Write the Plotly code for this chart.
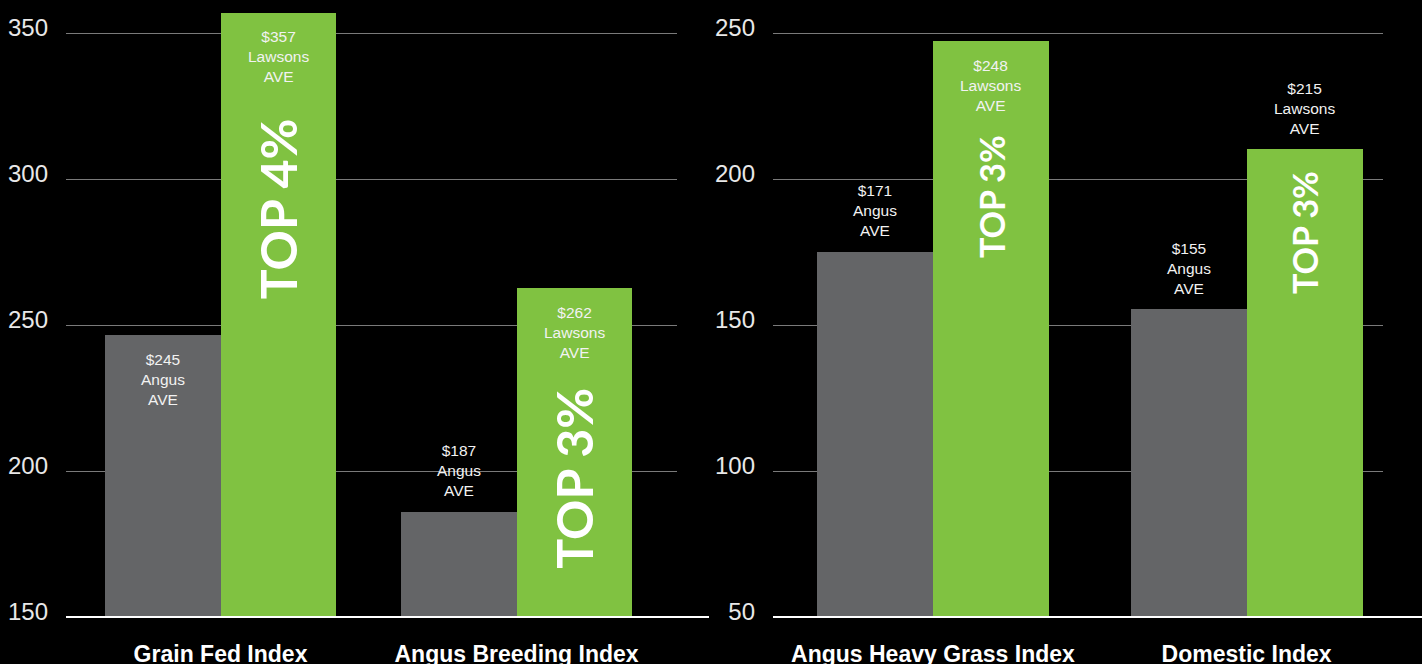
import plotly.graph_objects as go

# ---------------- data ----------------
left_categories = ["Grain Fed Index", "Angus Breeding Index"]
left_angus = [246.7, 186.0]
left_lawsons = [357.0, 262.7]
left_angus_labels = ["$245", "$187"]
left_lawsons_labels = ["$357", "$262"]
left_rank = ["TOP 4%", "TOP 3%"]
left_yticks = [150, 200, 250, 300, 350]

right_categories = ["Angus Heavy Grass Index", "Domestic Index"]
right_angus = [175.1, 155.6]
right_lawsons = [247.4, 210.3]
right_angus_labels = ["$171", "$155"]
right_lawsons_labels = ["$248", "$215"]
right_rank = ["TOP 3%", "TOP 3%"]
right_yticks = [50, 100, 150, 200, 250]

angus_name = "Angus<br>AVE"
lawsons_name = "Lawsons<br>AVE"

# ---------------- style ----------------
GREY = "#646567"
GREEN = "#80c241"
GRID = "#7a7a7a"
W, H = 1422, 664
PLOT_BOTTOM = 47

panels = [
    dict(cats=left_categories, angus=left_angus, lawsons=left_lawsons,
         al=left_angus_labels, ll=left_lawsons_labels, rank=left_rank,
         yticks=left_yticks, xa="x", ya="y", xkey="xaxis", ykey="yaxis",
         domain=[66 / W, 677 / W], xrange=[-0.522, 1.542], yrange=[150, 361.3],
         width=0.390,
         angus_shift=[-45, 41], lawsons_shift=[-44, -45],
         rank_shift=[-196.5, -190.5], rank_size=50,
         line=[66 / W, 709 / W]),
    dict(cats=right_categories, angus=right_angus, lawsons=right_lawsons,
         al=right_angus_labels, ll=right_lawsons_labels, rank=right_rank,
         yticks=right_yticks, xa="x2", ya="y2", xkey="xaxis2", ykey="yaxis2",
         domain=[773 / W, 1383 / W], xrange=[-0.510, 1.435], yrange=[50, 261.3],
         width=0.370,
         angus_shift=[41, 40], lawsons_shift=[-45, 40],
         rank_shift=[-155.5, -83.5], rank_size=34,
         line=[773 / W, 1.0]),
]

label_font = dict(family="Liberation Sans Narrow, Arial Narrow, Liberation Sans", size=15.5, color="#f2f2f2")
rank_family = "Lato, Noto Sans, sans-serif"

fig = go.Figure()
annotations = []
shapes = []
layout_axes = {}

for p in panels:
    idx = list(range(len(p["cats"])))
    w = p["width"]
    fig.add_trace(go.Bar(x=idx, y=p["angus"], width=w, offset=-w,
                         marker=dict(color=GREY, line=dict(width=0)),
                         xaxis=p["xa"], yaxis=p["ya"], showlegend=False, hoverinfo="skip"))
    fig.add_trace(go.Bar(x=idx, y=p["lawsons"], width=w, offset=0,
                         marker=dict(color=GREEN, line=dict(width=0)),
                         xaxis=p["xa"], yaxis=p["ya"], showlegend=False, hoverinfo="skip"))
    for i in idx:
        annotations.append(dict(
            x=i - w / 2, y=p["angus"][i], xref=p["xa"], yref=p["ya"],
            text=f"{p['al'][i]}<br>{angus_name}", showarrow=False,
            yanchor="middle", xanchor="center", yshift=p["angus_shift"][i],
            font=label_font, align="center"))
        annotations.append(dict(
            x=i + w / 2, y=p["lawsons"][i], xref=p["xa"], yref=p["ya"],
            text=f"{p['ll'][i]}<br>{lawsons_name}", showarrow=False,
            yanchor="middle", xanchor="center", yshift=p["lawsons_shift"][i],
            font=label_font, align="center"))
        annotations.append(dict(
            x=i + w / 2, y=p["lawsons"][i], xref=p["xa"], yref=p["ya"],
            text=p["rank"][i], showarrow=False, textangle=-90,
            yanchor="middle", xanchor="center", yshift=p["rank_shift"][i],
            font=dict(family=rank_family, size=p["rank_size"], color="white", weight=700)))
    layout_axes[p["xkey"]] = dict(
        domain=p["domain"], range=p["xrange"], tickmode="array", tickvals=idx,
        ticktext=p["cats"], showgrid=False, zeroline=False, showline=False,
        ticks="", ticklabelstandoff=21, fixedrange=True, automargin=False,
        tickfont=dict(family="Liberation Sans, Arial", size=23, color="white", weight="bold"),
        anchor=p["ya"])
    layout_axes[p["ykey"]] = dict(
        range=p["yrange"], tickmode="array", tickvals=p["yticks"],
        showgrid=True, gridcolor=GRID, gridwidth=1, zeroline=False, showline=False,
        ticks="", ticklabelstandoff=17, ticklabelshift=-5, automargin=False,
        tickfont=dict(family="Liberation Sans, Arial", size=24, color="#e8e8e8"),
        anchor=p["xa"], fixedrange=True)
    shapes.append(dict(type="line", xref="paper", yref="paper",
                       x0=p["line"][0], x1=p["line"][1], y0=0, y1=0,
                       line=dict(color="white", width=2), layer="above"))

fig.update_layout(
    width=W, height=H,
    margin=dict(l=0, r=0, t=0, b=PLOT_BOTTOM),
    paper_bgcolor="black", plot_bgcolor="black",
    barmode="overlay", bargap=0,
    annotations=annotations, shapes=shapes,
    **layout_axes,
)

fig.write_html("out.html", config={"displayModeBar": False},
               post_script="document.body.style.margin='0';document.body.style.background='black';")
